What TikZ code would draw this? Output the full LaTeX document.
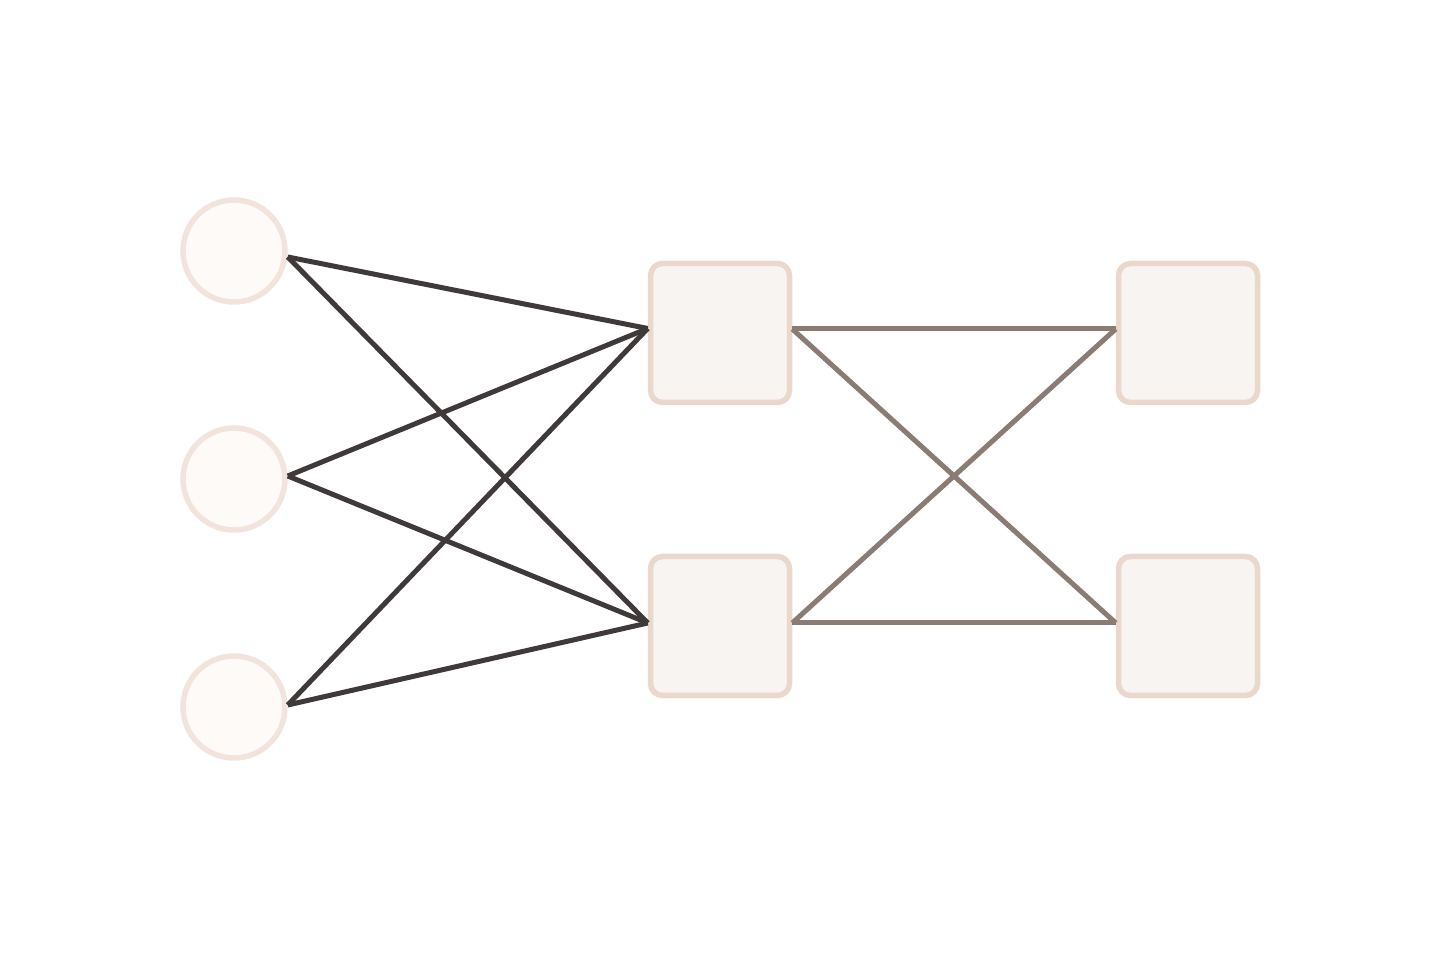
\documentclass[tikz,border=0pt]{standalone}
\usepackage{tikz}
\usetikzlibrary{shapes,calc,positioning}
\definecolor{inFill}{HTML}{FDFAF8}
\definecolor{inLine}{HTML}{F2E4DC}
\definecolor{boxFill}{HTML}{F8F4F1}
\definecolor{boxLine}{HTML}{EAD8CD}
\definecolor{darkEdge}{HTML}{3F393A}
\definecolor{lightEdge}{HTML}{8A7B73}
\tikzset{
    inunit/.style ={circle, draw=inLine, fill=inFill, line width=0.11cm, minimum size=2.04cm, inner sep=0pt},
    boxunit/.style ={rectangle, rounded corners=0.24cm, draw=boxLine, fill=boxFill, line width=0.11cm, minimum size=2.78cm, inner sep=0pt},
    wdark/.style = {draw=darkEdge, line width=0.1cm},
    wlight/.style = {draw=lightEdge, line width=0.1cm}
}
\begin{document}
\begin{tikzpicture}
	\useasboundingbox (0,0) rectangle (28.8,19.2);
	% positions of the layers
	\coordinate (c1) at (4.68,14.18);
	\coordinate (c2) at (4.68,9.62);
	\coordinate (c3) at (4.68,5.06);
	\coordinate (h1) at (14.4,12.54);
	\coordinate (h2) at (14.4,6.68);
	\coordinate (o1) at (23.76,12.54);
	\coordinate (o2) at (23.76,6.68);

 	\node[inunit] (in1) at (c1) {};
 	\node[inunit] (in2) at (c2) {};
 	\node[inunit] (in3) at (c3) {};
	\node[boxunit] (hid1) at (h1) {};
	\node[boxunit] (hid2) at (h2) {};
	\node[boxunit] (out1) at (o1) {};
	\node[boxunit] (out2) at (o2) {};

	\path[wdark] ([yshift=-0.12cm]in1.east) edge ([yshift=0.09cm]hid1.west);
	\path[wdark] ([yshift=-0.12cm]in1.east) edge ([yshift=0.06cm]hid2.west);
	\path[wdark] ([yshift=0.06cm]in2.east) edge ([yshift=0.09cm]hid1.west);
	\path[wdark] ([yshift=0.06cm]in2.east) edge ([yshift=0.06cm]hid2.west);
	\path[wdark] ([yshift=0.04cm]in3.east) edge ([yshift=0.09cm]hid1.west);
	\path[wdark] ([yshift=0.04cm]in3.east) edge ([yshift=0.06cm]hid2.west);

	\path[wlight] ([yshift=0.08cm]hid1.east) edge ([yshift=0.08cm]out1.west);
	\path[wlight] ([yshift=0.08cm]hid1.east) edge ([yshift=0.06cm]out2.west);
	\path[wlight] ([yshift=0.06cm]hid2.east) edge ([yshift=0.08cm]out1.west);
	\path[wlight] ([yshift=0.06cm]hid2.east) edge ([yshift=0.06cm]out2.west);
\end{tikzpicture}
\end{document}
